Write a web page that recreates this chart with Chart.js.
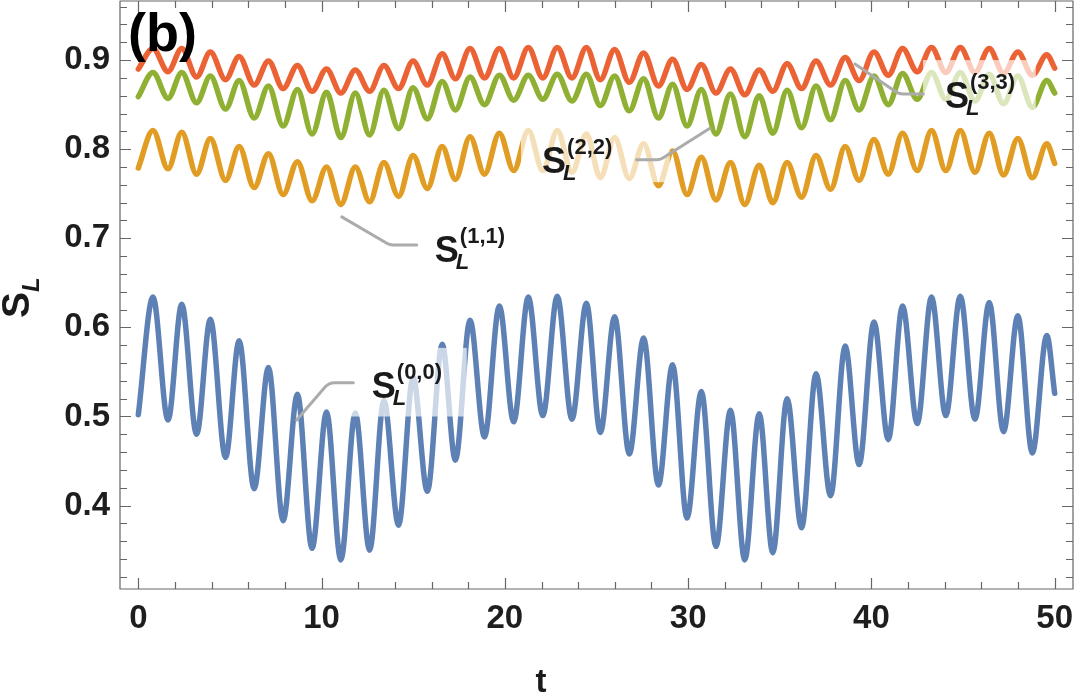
<!DOCTYPE html>
<html>
<head>
<meta charset="utf-8">
<script src="https://cdn.jsdelivr.net/npm/chart.js@4.4.0/dist/chart.umd.min.js"></script>
<style>
  html, body { margin: 0; padding: 0; background: #fff; }
  #wrap { width: 1074px; height: 696px; }
</style>
</head>
<body>
<div id="wrap"><canvas id="chart" width="1074" height="696"></canvas></div>
<script>
// time of each read-off extremum (start, peak, trough, ..., end)
const tExtrema = [0,
  0.80, 1.62, 2.37, 3.18, 3.93, 4.76, 5.50, 6.32, 7.10, 7.90, 8.68, 9.48, 10.27, 11.05, 11.84, 12.62, 13.40, 14.20, 14.99, 15.77,
  16.58, 17.30, 18.10, 18.89, 19.70, 20.48, 21.28, 22.07, 22.86, 23.66, 24.45, 25.21, 25.99, 26.79, 27.57, 28.38, 29.15, 29.94, 30.72, 31.52,
  32.31, 33.09, 33.88, 34.62, 35.40, 36.19, 36.98, 37.77, 38.57, 39.33, 40.14, 40.92, 41.70, 42.50, 43.28, 44.06, 44.85, 45.65, 46.43, 47.21,
  47.99, 48.78,
  49.57, 50];

// S_L^(0,0) - blue
const s00 = [0.502,
  0.634,0.496, 0.626,0.480, 0.609,0.454, 0.585,0.419, 0.555,0.383, 0.525,0.352, 0.505,0.339, 0.504,0.350, 0.518,0.378, 0.544,0.416,
  0.581,0.451, 0.608,0.477, 0.624,0.494, 0.634,0.501, 0.635,0.497, 0.627,0.482, 0.612,0.458, 0.588,0.423, 0.558,0.386, 0.528,0.354,
  0.507,0.339, 0.503,0.347, 0.520,0.375, 0.548,0.411, 0.579,0.446, 0.606,0.474, 0.624,0.492, 0.634,0.501, 0.635,0.497, 0.628,0.483,
  0.613,0.459,
  0.591, 0.526];

// S_L^(1,1) - amber
const s11 = [0.779,
  0.821,0.778, 0.819,0.772, 0.812,0.765, 0.803,0.757, 0.795,0.749, 0.786,0.742, 0.780,0.738, 0.780,0.741, 0.785,0.747, 0.793,0.756,
  0.803,0.766, 0.814,0.772, 0.818,0.776, 0.821,0.776, 0.821,0.774, 0.817,0.768, 0.813,0.767, 0.806,0.759, 0.798,0.749, 0.791,0.743,
  0.785,0.738, 0.782,0.740, 0.785,0.746, 0.793,0.755, 0.803,0.765, 0.811,0.772, 0.818,0.776, 0.821,0.776, 0.821,0.774, 0.818,0.771,
  0.812,0.768,
  0.806, 0.784];

// S_L^(2,2) - green
const s22 = [0.859,
  0.886,0.857, 0.886,0.852, 0.882,0.845, 0.877,0.835, 0.871,0.826, 0.867,0.817, 0.864,0.813, 0.863,0.816, 0.866,0.823, 0.869,0.834,
  0.876,0.844, 0.881,0.850, 0.883,0.855, 0.883,0.856, 0.884,0.854, 0.884,0.849, 0.882,0.843, 0.879,0.835, 0.873,0.826, 0.867,0.817,
  0.862,0.814, 0.860,0.818, 0.866,0.824, 0.871,0.833, 0.877,0.844, 0.882,0.850, 0.885,0.856, 0.886,0.856, 0.886,0.854, 0.884,0.851,
  0.882,0.847,
  0.877, 0.863];

// S_L^(3,3) - red
const s33 = [0.890,
  0.913,0.887, 0.913,0.881, 0.909,0.878, 0.904,0.872, 0.899,0.868, 0.894,0.865, 0.890,0.863, 0.889,0.865, 0.894,0.868, 0.899,0.872,
  0.907,0.879, 0.913,0.880, 0.913,0.880, 0.914,0.880, 0.914,0.880, 0.914,0.878, 0.912,0.875, 0.908,0.871, 0.901,0.867, 0.895,0.863,
  0.890,0.861, 0.889,0.865, 0.896,0.868, 0.899,0.872, 0.903,0.877, 0.909,0.883, 0.913,0.887, 0.914,0.886, 0.914,0.886, 0.913,0.885,
  0.909,0.883,
  0.906, 0.891];

const xTicks = [0, 10, 20, 30, 40, 50];
const yTicks = [0.4, 0.5, 0.6, 0.7, 0.8, 0.9];

const COLORS = {
  s00: '#5e81b5',
  s11: '#e19c24',
  s22: '#8fb032',
  s33: '#eb6235'
};
const FONT = "'Liberation Sans', Arial, sans-serif";

// callout labels, placed in data units: text anchor, leader (start, bend, end), faded box behind
const callouts = [
  { sup: '(0,0)', at: [12.74, 0.521], leader: [[8.64, 0.496], [10.40, 0.538], [11.73, 0.538]], fade: [11.55, 17.92, 0.500, 0.577] },
  { sup: '(1,1)', at: [16.18, 0.673], leader: [[11.10, 0.724], [13.71, 0.6925], [15.19, 0.6925]] },
  { sup: '(2,2)', at: [22.03, 0.773], leader: [[27.19, 0.788], [28.46, 0.788], [31.19, 0.8235]], fade: [20.88, 29.0, 0.763, 0.827] },
  { sup: '(3,3)', at: [44.01, 0.846], leader: [[39.10, 0.8956], [41.52, 0.8619], [42.83, 0.8619]], fade: [42.82, 48.97, 0.844, 0.900] }
];

function toPoints(vals) {
  return vals.map((v, i) => ({ x: tExtrema[i], y: v }));
}

function drawSL(ctx, x0, y0, sup) {
  ctx.fillStyle = '#1a1a1a';
  ctx.textAlign = 'left';
  ctx.textBaseline = 'alphabetic';
  ctx.font = `bold 36px ${FONT}`;
  ctx.fillText('S', x0, y0);
  ctx.font = `italic bold 22px ${FONT}`;
  ctx.fillText('L', x0 + 21, y0 + 7);
  ctx.font = `bold 22px ${FONT}`;
  ctx.fillText(sup, x0 + 25, y0 - 19);
}

const decor = {
  id: 'decor',
  afterDatasetsDraw(chart) {
    const { ctx, chartArea: a } = chart;
    const xs = chart.scales.x, ys = chart.scales.y;
    const px = t => xs.getPixelForValue(t);
    const py = v => ys.getPixelForValue(v);
    ctx.save();

    // faded background behind the callout labels
    ctx.fillStyle = 'rgba(255,255,255,0.68)';
    callouts.forEach(c => {
      if (!c.fade) return;
      const [t0, t1, v0, v1] = c.fade;
      ctx.fillRect(px(t0), py(v1), px(t1) - px(t0), py(v0) - py(v1));
    });

    // leader lines
    ctx.strokeStyle = '#ababab';
    ctx.lineWidth = 3;
    ctx.lineCap = 'round';
    ctx.lineJoin = 'round';
    callouts.forEach(c => {
      const [p0, p1, p2] = c.leader;
      ctx.beginPath();
      ctx.moveTo(px(p0[0]), py(p0[1]));
      ctx.arcTo(px(p1[0]), py(p1[1]), px(p2[0]), py(p2[1]), 12);
      ctx.lineTo(px(p2[0]), py(p2[1]));
      ctx.stroke();
    });

    callouts.forEach(c => drawSL(ctx, px(c.at[0]), py(c.at[1]), c.sup));

    // frame with inward ticks on all four sides
    ctx.strokeStyle = '#666';
    ctx.lineWidth = 1.2;
    ctx.lineCap = 'butt';
    ctx.strokeRect(a.left, a.top, a.right - a.left, a.bottom - a.top);
    ctx.beginPath();
    for (let t = 0; t <= 50; t += 2) {
      const len = xTicks.includes(t) ? 11 : 7;
      const x = Math.round(px(t)) + 0.5;
      ctx.moveTo(x, a.bottom); ctx.lineTo(x, a.bottom - len);
      ctx.moveTo(x, a.top); ctx.lineTo(x, a.top + len);
    }
    for (let k = 16; k <= 48; k++) {
      const v = k / 50;
      const len = (k % 5 === 0) ? 11 : 7;
      const y = Math.round(py(v)) + 0.5;
      ctx.moveTo(a.left, y); ctx.lineTo(a.left + len, y);
      ctx.moveTo(a.right, y); ctx.lineTo(a.right - len, y);
    }
    ctx.stroke();

    // panel tag
    ctx.fillStyle = '#000';
    ctx.textAlign = 'left';
    ctx.textBaseline = 'alphabetic';
    ctx.font = `bold 54px ${FONT}`;
    ctx.fillText('(b)', a.left + 8, a.top + 50);

    // axis titles
    ctx.fillStyle = '#1a1a1a';
    ctx.font = `bold 33px ${FONT}`;
    ctx.textAlign = 'center';
    ctx.fillText('t', 541, 692);

    ctx.translate(29, 318);
    ctx.rotate(-Math.PI / 2);
    ctx.textAlign = 'left';
    ctx.font = `bold 39px ${FONT}`;
    ctx.fillText('S', 0, 0);
    ctx.font = `italic bold 24px ${FONT}`;
    ctx.fillText('L', 26, 10);

    ctx.restore();
  }
};

const tickFont = { family: FONT, size: 33, weight: 'bold' };

function noPad(s) {
  s.paddingLeft = 0;
  s.paddingRight = 0;
  s.paddingTop = 0;
  s.paddingBottom = 0;
}

new Chart(document.getElementById('chart').getContext('2d'), {
  type: 'line',
  data: {
    datasets: [
      { label: 'S_L^(3,3)', data: toPoints(s33), borderColor: COLORS.s33 },
      { label: 'S_L^(2,2)', data: toPoints(s22), borderColor: COLORS.s22 },
      { label: 'S_L^(1,1)', data: toPoints(s11), borderColor: COLORS.s11 },
      { label: 'S_L^(0,0)', data: toPoints(s00), borderColor: COLORS.s00 }
    ]
  },
  options: {
    responsive: false,
    animation: false,
    layout: { padding: { top: 1, right: 1, left: 0, bottom: 0 }, autoPadding: false },
    plugins: { legend: { display: false }, tooltip: { enabled: false } },
    elements: {
      point: { radius: 0 },
      line: { borderWidth: 5.5, cubicInterpolationMode: 'monotone', borderCapStyle: 'round', borderJoinStyle: 'round', fill: false }
    },
    scales: {
      x: {
        type: 'linear',
        min: -1,
        max: 51,
        grid: { display: false, drawTicks: false },
        border: { display: false },
        afterBuildTicks: s => { s.ticks = xTicks.map(v => ({ value: v })); },
        afterFit: s => { s.height = 107; noPad(s); },
        ticks: { padding: 10, font: tickFont, color: '#1e1e1e', maxRotation: 0, autoSkip: false, callback: v => String(v) }
      },
      y: {
        min: 0.3064,
        max: 0.9663,
        grid: { display: false, drawTicks: false },
        border: { display: false },
        afterBuildTicks: s => { s.ticks = yTicks.map(v => ({ value: v })); },
        afterFit: s => { s.width = 120; noPad(s); },
        ticks: { padding: 10, font: tickFont, color: '#1e1e1e', callback: v => v.toFixed(1) }
      }
    }
  },
  plugins: [decor]
});
</script>
</body>
</html>
